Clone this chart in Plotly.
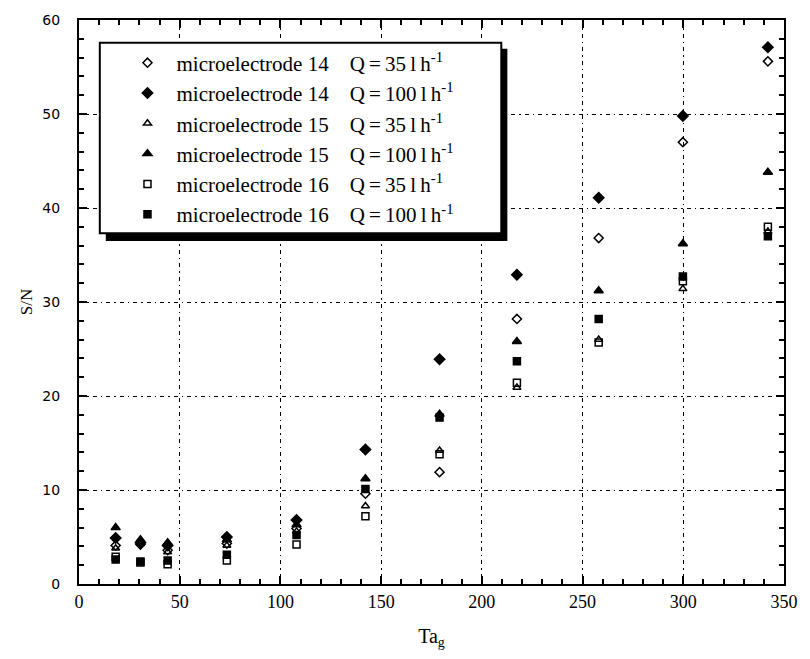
import plotly.graph_objects as go

# Ta_g values at which S/N was measured
tag = [18.2, 30.5, 44.0, 73.4, 108.0, 142.2, 179.0, 217.4, 258.0, 299.8, 342.0]

# Signal-to-noise ratio per microelectrode and flow rate
sn_14_35 = [4.1, 4.2, 3.6, 4.3, 5.9, 9.6, 11.9, 28.2, 36.8, 47.0, 55.6]
sn_14_100 = [4.9, 4.4, 4.1, 5.0, 6.8, 14.3, 23.9, 32.9, 41.1, 49.8, 57.1]
sn_15_35 = [3.8, 4.3, 3.4, 4.1, 5.6, 8.3, 14.2, 20.9, 26.0, 31.4, 37.5]
sn_15_100 = [6.0, 4.7, 4.4, 4.7, 6.3, 11.2, 18.05, 25.8, 31.2, 36.2, 43.8]
sn_16_35 = [2.9, 2.3, 2.1, 2.5, 4.2, 7.2, 13.8, 21.4, 25.7, 32.2, 38.0]
sn_16_100 = [2.6, 2.4, 2.5, 3.1, 5.2, 10.1, 17.7, 23.7, 28.2, 32.7, 37.0]

SERIF = "Liberation Serif, Times New Roman, Times, serif"
SANS = "DejaVu Sans, Verdana, sans-serif"

Q35 = "Q\u2009=\u200935\u2009l\u2009h<sup>-1</sup>"
Q100 = "Q\u2009=\u2009100\u2009l\u2009h<sup>-1</sup>"

series = [
    ("microelectrode 14\u2003" + Q35, sn_14_35, "diamond-open", 7),
    ("microelectrode 14\u2003" + Q100, sn_14_100, "diamond", 8),
    ("microelectrode 15\u2003" + Q35, sn_15_35, "triangle-up-open", 7),
    ("microelectrode 15\u2003" + Q100, sn_15_100, "triangle-up", 8),
    ("microelectrode 16\u2003" + Q35, sn_16_35, "square-open", 7),
    ("microelectrode 16\u2003" + Q100, sn_16_100, "square", 7),
]

fig = go.Figure()
for name, vals, sym, size in series:
    fig.add_trace(go.Scatter(
        x=tag, y=vals, mode="markers", name=name,
        marker=dict(symbol=sym, size=size, color="black",
                    line=dict(color="black", width=1.5)),
    ))

# legend frame with drop shadow (paper coordinates)
fig.add_shape(type="rect", xref="paper", yref="paper",
              x0=0.038, x1=0.6076, y0=0.608, y1=0.949,
              fillcolor="black", line=dict(width=0), layer="above")
fig.add_shape(type="rect", xref="paper", yref="paper",
              x0=0.0295, x1=0.599, y0=0.622, y1=0.9596,
              fillcolor="white", line=dict(color="black", width=2), layer="above")

axis_common = dict(
    showline=True, linecolor="black", linewidth=2, mirror="allticks",
    ticks="inside", ticklen=8, tickwidth=1.5, tickcolor="black",
    showgrid=True, gridcolor="black", gridwidth=1,
    griddash="4px,4px,1.5px,4px", zeroline=False,
)

fig.update_xaxes(
    range=[0, 350], dtick=50, tick0=0,
    minor=dict(dtick=10, ticks="inside", ticklen=5, tickcolor="black", showgrid=False),
    tickfont=dict(family=SERIF, size=18, color="black"),
    title=dict(text="Ta<sub>g</sub>", font=dict(family=SERIF, size=20, color="black"),
               standoff=18),
    **axis_common,
)
fig.update_yaxes(
    range=[0, 60], dtick=10, tick0=0,
    minor=dict(dtick=2, ticks="inside", ticklen=5, tickcolor="black", showgrid=False),
    tickfont=dict(family=SANS, size=14, color="black"),
    ticklabelstandoff=14,
    title=dict(text="S/N", font=dict(family=SERIF, size=17, color="black"),
               standoff=5),
    **axis_common,
)

fig.update_layout(
    width=810, height=659,
    margin=dict(l=79, r=20, t=15, b=75),
    plot_bgcolor="white", paper_bgcolor="white",
    legend=dict(
        x=0.056, y=0.96, xanchor="left", yanchor="top",
        bgcolor="rgba(0,0,0,0)", borderwidth=0,
        font=dict(family=SERIF, size=21, color="black"),
        itemwidth=48, tracegroupgap=0,
    ),
)

fig.write_html("out.html")
